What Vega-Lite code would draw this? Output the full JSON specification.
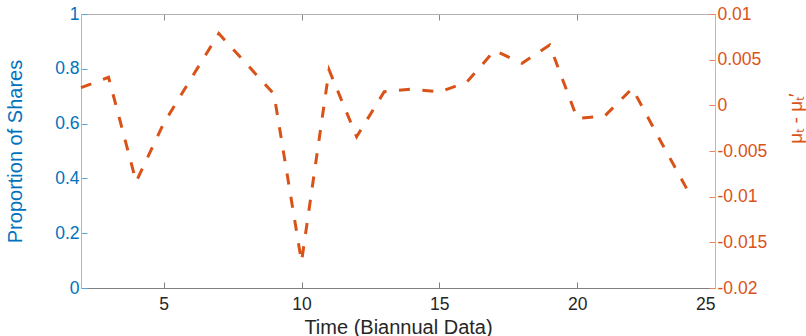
{
  "$schema": "https://vega.github.io/schema/vega-lite/v6.json",
  "width": 634,
  "height": 274,
  "autosize": {"type": "none"},
  "padding": {"left": 81, "top": 14, "right": 91, "bottom": 48},
  "background": "white",
  "config": {
    "view": {"stroke": null},
    "font": "Liberation Sans",
    "axis": {
      "labelFont": "Liberation Sans",
      "titleFont": "Liberation Sans",
      "labelFontSize": 17.5,
      "titleFontSize": 20,
      "titleFontWeight": "normal",
      "grid": false,
      "domainWidth": 1,
      "tickWidth": 1,
      "tickSize": -6,
      "labelPadding": 8
    }
  },
  "data": {
    "values": [
      {"t": 2, "d": 0.00193},
      {"t": 3, "d": 0.00307},
      {"t": 4, "d": -0.00837},
      {"t": 5, "d": -0.00197},
      {"t": 6, "d": 0.00296},
      {"t": 7, "d": 0.00786},
      {"t": 8, "d": 0.00455},
      {"t": 9, "d": 0.00124},
      {"t": 10, "d": -0.01713},
      {"t": 11, "d": 0.00387},
      {"t": 12, "d": -0.00344},
      {"t": 13, "d": 0.00149},
      {"t": 14, "d": 0.00178},
      {"t": 15, "d": 0.00146},
      {"t": 16, "d": 0.00255},
      {"t": 17, "d": 0.006},
      {"t": 18, "d": 0.0046},
      {"t": 19, "d": 0.0066},
      {"t": 20, "d": -0.00142},
      {"t": 21, "d": -0.00117},
      {"t": 22, "d": 0.00186},
      {"t": 23, "d": -0.00377},
      {"t": 24, "d": -0.00927}
    ]
  },
  "layer": [
    {
      "mark": {"type": "rule", "opacity": 0},
      "encoding": {
        "y": {
          "datum": 0,
          "type": "quantitative",
          "scale": {"domain": [0, 1], "nice": false, "zero": false},
          "axis": {
            "orient": "left",
            "values": [0, 0.2, 0.4, 0.6, 0.8, 1],
            "format": "~g",
            "title": "Proportion of Shares",
            "titleColor": "#0072BD",
            "labelColor": "#0072BD",
            "domainColor": "#8cc0e6",
            "tickColor": "#5aa3d8",
            "titleAngle": -90,
            "titleBaseline": "alphabetic",
            "titleX": -60,
            "titleY": 137,
            "titleAlign": "center"
          }
        }
      }
    },
    {
      "mark": {"type": "line", "color": "#D95319", "strokeWidth": 3, "strokeDash": [11, 12.5], "strokeCap": "butt"},
      "encoding": {
        "x": {
          "field": "t",
          "type": "quantitative",
          "scale": {"domain": [2, 25], "nice": false, "zero": false},
          "axis": {
            "orient": "bottom",
            "values": [5, 10, 15, 20, 25],
            "title": "Time (Biannual Data)",
            "titleColor": "#262626",
            "labelColor": "#262626",
            "labelPadding": 13,
            "domainColor": "#808080",
            "tickColor": "#808080",
            "titleBaseline": "alphabetic",
            "titleY": 45
          }
        },
        "y": {
          "field": "d",
          "type": "quantitative",
          "scale": {"domain": [-0.02, 0.01], "nice": false, "zero": false},
          "axis": {
            "orient": "right",
            "values": [-0.02, -0.015, -0.01, -0.005, 0, 0.005, 0.01],
            "labelExpr": "datum.value + ''",
            "title": "μₜ - μₜ′",
            "titleColor": "#D95319",
            "labelColor": "#D95319",
            "domainColor": "#f0a88a",
            "tickColor": "#e8845e",
            "titleFontSize": 19,
            "titleAngle": -90,
            "titleBaseline": "alphabetic",
            "titleX": 86,
            "titleY": 104,
            "titleAlign": "center"
          }
        }
      }
    },
    {
      "mark": {"type": "line", "opacity": 0},
      "encoding": {
        "x": {
          "field": "t",
          "type": "quantitative",
          "scale": {"domain": [2, 25], "nice": false, "zero": false},
          "axis": {
            "orient": "top",
            "values": [5, 10, 15, 20, 25],
            "labels": false,
            "title": null,
            "domainColor": "#b3b3b3",
            "tickColor": "#8a8a8a"
          }
        },
        "y": {"field": "d", "type": "quantitative", "axis": null}
      }
    }
  ],
  "resolve": {"scale": {"y": "independent"}, "axis": {"x": "independent"}}
}
